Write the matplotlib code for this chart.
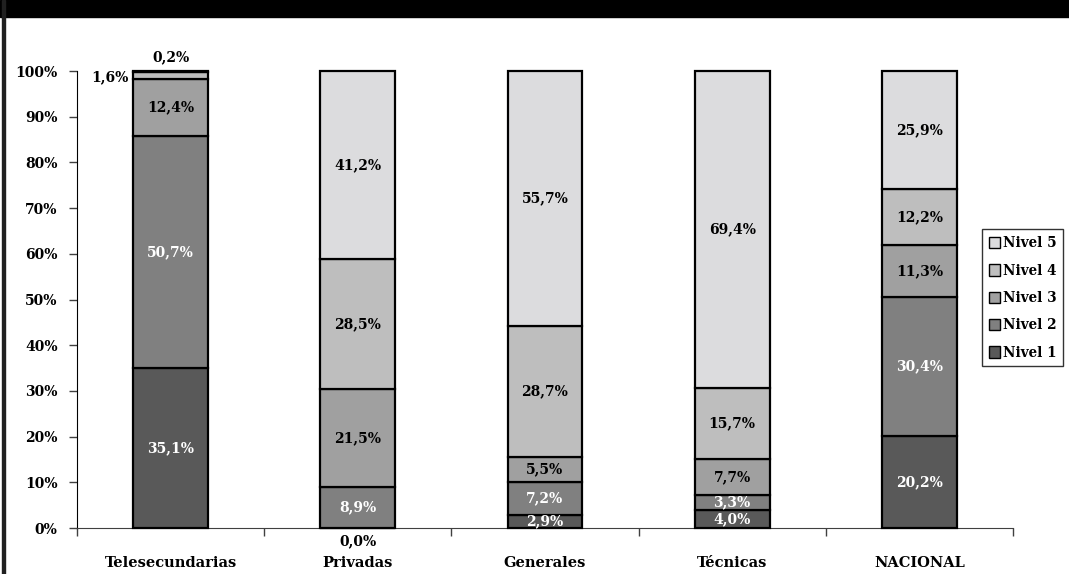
import matplotlib
matplotlib.use("Agg")
import matplotlib.pyplot as plt
import numpy as np
from matplotlib.patches import Rectangle

categories = ["Telesecundarias", "Privadas", "Generales", "Técnicas", "NACIONAL"]
levels = ["Nivel 1", "Nivel 2", "Nivel 3", "Nivel 4", "Nivel 5"]

nivel1 = [35.1, 0.0, 2.9, 4.0, 20.2]
nivel2 = [50.7, 8.9, 7.2, 3.3, 30.4]
nivel3 = [12.4, 21.5, 5.5, 7.7, 11.3]
nivel4 = [1.6, 28.5, 28.7, 15.7, 12.2]
nivel5 = [0.2, 41.2, 55.7, 69.4, 25.9]

colors = ["#595959", "#808080", "#a0a0a0", "#bebebe", "#dcdcde"]
text_colors = ["white", "white", "black", "black", "black"]

FONT = "DejaVu Serif"


def fmt(v):
    return f"{v:.1f}%".replace(".", ",")


def main():
    plt.rcParams["font.family"] = FONT
    plt.rcParams["font.weight"] = "bold"

    fig = plt.figure(figsize=(10.69, 5.74), dpi=100)
    ax = fig.add_axes([0.072, 0.0801, 0.8756, 0.796])

    series = [nivel1, nivel2, nivel3, nivel4, nivel5]
    x = np.arange(len(categories))
    bottom = np.zeros(len(categories))
    bars = []
    for i, vals in enumerate(series):
        b = ax.bar(x, vals, width=0.4, bottom=bottom, color=colors[i],
                   edgecolor="black", linewidth=1.6, label=levels[i],
                   clip_on=False, zorder=3)
        bars.append(b)
        for j, v in enumerate(vals):
            cy = bottom[j] + v / 2
            cx = x[j]
            ha = "center"
            va = "center"
            col = text_colors[i]
            # small segments get their labels moved outside
            if j == 0 and i == 3:
                cx = x[j] - 0.225
                cy = 98.7
                ha = "right"
                col = "black"
            elif j == 0 and i == 4:
                cy = 103.0
                col = "black"
            elif j == 1 and i == 0:
                cy = -2.8
                col = "black"
            ax.text(cx, cy, fmt(v), ha=ha, va=va, color=col,
                    fontsize=10, fontweight="bold", clip_on=False,
                    zorder=5)
        bottom += np.array(vals)

    ax.set_xlim(-0.5, len(categories) - 0.5)
    ax.set_ylim(0, 100)
    ax.set_yticks(np.arange(0, 101, 10))
    ax.set_yticklabels([f"{t}%" for t in range(0, 101, 10)],
                       fontsize=10, fontweight="bold")
    ax.set_xticks(np.arange(-0.5, len(categories), 1))
    ax.set_xticklabels([])
    ax.tick_params(axis="both", direction="out", length=6, width=1,
                   color="#404040")
    ax.tick_params(axis="y", pad=8)
    for s in ["top", "right"]:
        ax.spines[s].set_visible(False)
    ax.spines["left"].set_color("black")
    ax.spines["bottom"].set_color("#404040")

    for j, c in enumerate(categories):
        ax.text(x[j], -0.077, c, transform=ax.get_xaxis_transform(),
                ha="center", va="center", fontsize=10.5, fontweight="bold")

    handles = [bars[i][0] for i in range(4, -1, -1)]
    labels = [levels[i] for i in range(4, -1, -1)]
    leg = fig.legend(handles, labels, loc="center left",
                     bbox_to_anchor=(0.9185, 0.481), frameon=True,
                     fancybox=False, edgecolor="black", fontsize=9.8,
                     handlelength=0.85, handleheight=0.9, handletextpad=0.2,
                     borderpad=0.5, labelspacing=0.98, borderaxespad=0)
    leg.get_frame().set_linewidth(1.0)
    for h in leg.legend_handles:
        h.set_linewidth(1.0)

    # black band on top and the border on the left
    fig.patches.append(Rectangle((0, 1 - 17 / 574), 1, 17 / 574,
                                 transform=fig.transFigure,
                                 color="black", zorder=0))
    fig.patches.append(Rectangle((2 / 1069, 0), 2.5 / 1069, 1,
                                 transform=fig.transFigure,
                                 color="#202020", zorder=0))

    fig.savefig("out.png", dpi=100)


if __name__ == '__main__':
    main()
